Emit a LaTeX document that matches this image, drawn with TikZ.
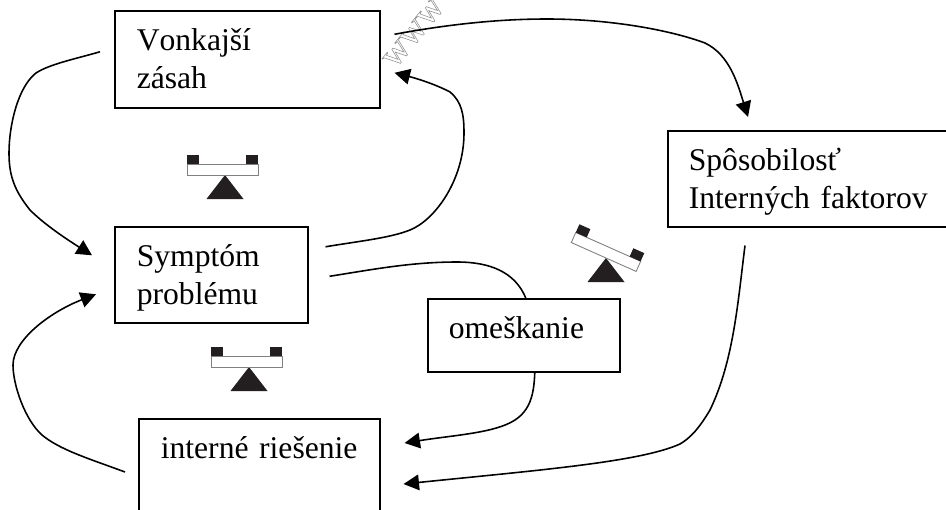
\documentclass[tikz,border=0pt]{standalone}
\usepackage{fontspec}
\setmainfont[Kerning=Off]{Liberation Serif}
\usetikzlibrary{arrows.meta}
\definecolor{ink}{HTML}{231F20}
\tikzset{
	box/.style={draw,line width=0.9pt,anchor=north west,align=left,inner ysep=0pt,text height=0.8cm,font=\fontsize{18}{21.5}\selectfont},
	flow/.style={line width=0.9pt,-{Triangle[length=8.8pt,width=8.9pt]}},
	wire/.style={line width=0.9pt},
	wmark/.style={font=\fontsize{21}{21}\selectfont,inner sep=0pt,rotate=51}
}
% apex x, apex y, tilt of the plate
\newcommand{\balance}[3]{
	\begin{scope}[shift={(#1,#2)}]
		\fill[ink] (0,0) -- (18.5,24) -- (-18.5,24) -- cycle;
		\begin{scope}[rotate=#3]
			\draw[gray,line width=0.5pt,fill=white] (-38,-11) rectangle (33,0);
			\fill[ink] (-38,-11) rectangle (-26,-20);
			\fill[ink] (21,-11) rectangle (33,-20);
		\end{scope}
	\end{scope}
}
\begin{document}
\begin{tikzpicture}[x=0.02cm,y=-0.02cm]
	\clip (0,0) rectangle (946,510);
	\fill[white] (0,0) rectangle (946,510);
	\node[wmark] (web) at (414,33) {\special{pdf:code 1 Tr 0.3 w 0.55 G}www};
	\node[box,text width=4.42cm,inner xsep=0.44cm,text depth=1.14cm] (vonkajsi) at (114,10) {Vonkajší\\zásah};
	\node[box,text width=2.98cm,inner xsep=0.44cm,text depth=1.12cm] (symptom) at (114,226) {Symptóm\\problému};
	\node[box,text width=5.02cm,inner xsep=0.42cm,text depth=1.12cm] (sposobilost) at (667,130) {Spôsobilosť\\Interných faktorov};
	\node[box,text width=3cm,inner xsep=0.42cm,text depth=0.66cm] (omeskanie) at (427,298) {omeškanie};
	\node[box,text width=3.94cm,inner xsep=0.44cm,text depth=2.2cm] (interne) at (138,418) {interné riešenie};
	\balance{225}{175}{0}
	\balance{249}{367}{0}
	\balance{606}{258}{-24}
	\draw[flow] ([shift={(-14,-7.5)}]vonkajsi.west) .. controls (75,59) and (50,64) .. (36,73) .. controls (18,87) and (9,125) .. (9,153) .. controls (9,175) and (14,190) .. (30,210) .. controls (42,222) and (60,235) .. ([shift={(-22,-19.5)}]symptom.west);
	\draw[flow] ([shift={(-13,54)}]interne.north west) .. controls (90,459) and (60,450) .. (42,435) .. controls (25,420) and (13,385) .. (13,365) .. controls (13,340) and (50,312) .. ([shift={(-18,19.5)}]symptom.west);
	\draw[flow] ([shift={(17,-28)}]symptom.east) .. controls (360,241) and (390,238) .. (410,230) .. controls (435,220) and (464,180) .. (464,133) .. controls (464,115) and (462,102) .. (450,92) .. controls (435,84) and (415,78) .. ([shift={(14,13.5)}]vonkajsi.east);
	\draw[flow] ([shift={(14,-25)}]vonkajsi.east) .. controls (450,24) and (500,19) .. (547,19) .. controls (610,19) and (670,30) .. (705,43) .. controls (730,55) and (738,85) .. ([shift={(81,-13)}]sposobilost.north west);
	\draw[wire] ([shift={(21,1.5)}]symptom.east) .. controls (370,270) and (410,262) .. (457,262) .. controls (490,262) and (515,272) .. ([shift={(2,0)}]omeskanie.north);
	\draw[flow] ([shift={(11,0)}]omeskanie.south) .. controls (534,395) and (530,410) .. (515,420) .. controls (495,433) and (455,435) .. ([shift={(24,25)}]interne.north east);
	\draw[flow] ([shift={(78,18)}]sposobilost.south west) .. controls (738,300) and (734,360) .. (710,410) .. controls (698,430) and (690,438) .. (680,444) .. controls (640,462) and (540,470) .. ([shift={(23,66)}]interne.north east);
\end{tikzpicture}
\end{document}
